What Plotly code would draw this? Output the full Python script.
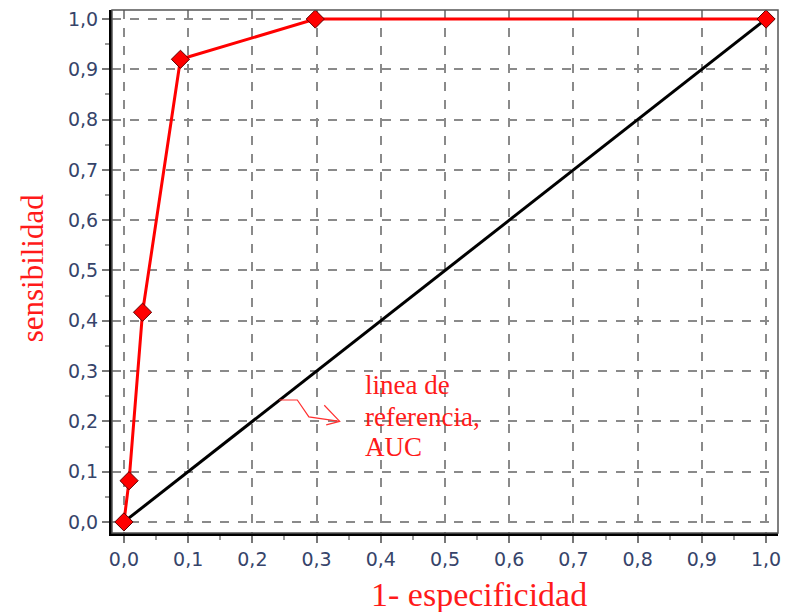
import plotly.graph_objects as go

# ROC curve points (1 - specificity, sensitivity)
fpr = [0.0, 0.008, 0.029, 0.088, 0.298, 1.0]
tpr = [0.0, 0.082, 0.417, 0.92, 1.0, 1.0]

# reference diagonal
ref_x = [0.0, 1.0]
ref_y = [0.0, 1.0]

tick_vals = [i / 10 for i in range(11)]
tick_text = ["0,0", "0,1", "0,2", "0,3", "0,4", "0,5", "0,6", "0,7", "0,8", "0,9", "1,0"]

note_lines = ["linea de", "referencia,", "AUC"]

fig = go.Figure()
fig.add_trace(go.Scatter(x=ref_x, y=ref_y, mode="lines",
                         line=dict(color="black", width=3), showlegend=False))
fig.add_trace(go.Scatter(x=fpr, y=tpr, mode="lines+markers",
                         line=dict(color="#ff0000", width=3),
                         marker=dict(symbol="diamond", size=14, color="#ff0000",
                                     line=dict(color="#600000", width=1)),
                         showlegend=False))

axis_common = dict(
    tickvals=tick_vals, ticktext=tick_text,
    showgrid=True, gridcolor="#8a8a8a", griddash="dash", gridwidth=1.5,
    zeroline=False,
    showline=True, linecolor="black", linewidth=3,
    ticks="outside", ticklen=7, tickcolor="#777777", tickwidth=2,
    minor=dict(dtick=0.05, ticks="outside", ticklen=4, tickcolor="#999999", tickwidth=2, showgrid=False),
    tickfont=dict(family="DejaVu Sans", size=19, color="#36446a"),
    ticklabeloverflow="allow",
)

fig.update_xaxes(range=[-0.0186, 1.0186], **axis_common)
fig.update_yaxes(range=[-0.022, 1.018], **axis_common)

# frame
fig.add_shape(type="rect", xref="paper", yref="paper", x0=0, y0=0, x1=1, y1=1,
              line=dict(color="#555555", width=1.5), layer="above")

# callout arrow
fig.add_shape(type="path", xref="x", yref="y",
              path="M 0.242 0.2425 L 0.27 0.2425 L 0.288 0.209 L 0.336 0.20",
              line=dict(color="#ff3030", width=1.2))
fig.add_shape(type="path", xref="x", yref="y",
              path="M 0.312 0.232 L 0.336 0.20 L 0.315 0.193",
              line=dict(color="#ff3030", width=1.2))

for txt, yy in zip(note_lines, [0.2724, 0.2087, 0.149]):
    fig.add_annotation(x=0.372, y=yy, xref="x", yref="y", xanchor="left", yanchor="middle",
                       text=txt, showarrow=False, align="left",
                       font=dict(family="Liberation Serif, Times New Roman", size=27, color="#ff1a1a"))

# axis titles (plot area: x 112..781, y 10..533 in page pixels)
fig.add_annotation(x=(481 - 112) / 669, y=(533 - 594) / 523, xref="paper", yref="paper",
                   xanchor="center", yanchor="middle",
                   text="1- especificidad", showarrow=False,
                   font=dict(family="Liberation Serif, Times New Roman", size=34, color="#ff1a1a"))
fig.add_annotation(x=(32 - 112) / 669, y=(533 - 268) / 523, xref="paper", yref="paper",
                   xanchor="center", yanchor="middle",
                   text="sensibilidad", showarrow=False, textangle=-90,
                   font=dict(family="Liberation Serif, Times New Roman", size=31, color="#ff1a1a"))

fig.update_layout(
    width=787, height=612,
    margin=dict(l=112, r=6, t=10, b=79),
    paper_bgcolor="white", plot_bgcolor="white",
    hovermode=False,
)

fig.write_html("out.html", config={"displayModeBar": False},
               post_script="document.body.style.margin='0';document.body.style.overflow='hidden';")
